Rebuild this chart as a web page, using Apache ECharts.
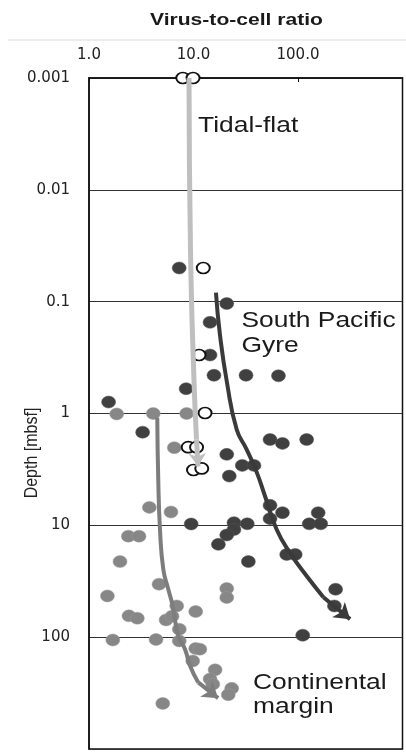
<!DOCTYPE html>
<html><head><meta charset="utf-8">
<script src="https://cdn.jsdelivr.net/npm/echarts@6/dist/echarts.min.js"></script>
<style>html,body{margin:0;padding:0;background:#fff}#c{width:406px;height:752px}</style>
</head><body><div id="c"></div>
<script>
// ---- tick labels ----
const xTickExponents = [0, 1, 2, 3];
const xTickLabels = ['1.0', '10.0', '100.0', ''];
const yTickExponents = [-3, -2, -1, 0, 1, 2, 3];
const yTickLabels = ['0.001', '0.01', '0.1', '1', '10', '100', ''];

// ---- Tidal-flat (open circles) ----
const tidalX = [7.9, 9.9, 12.4, 11.3, 12.9, 8.9, 10.7, 10.0, 12.0];
const tidalY = [0.001, 0.001, 0.05, 0.3, 0.99, 2.0, 2.0, 3.2, 3.1];

// ---- South Pacific Gyre (dark circles) ----
const gyreX = [7.3, 20.8, 14.4, 14.4, 15.7, 31.8, 65, 8.5, 1.54, 3.26, 54, 71, 121, 20.8, 29.3, 37.9, 22.0, 54, 71, 156, 54, 9.5, 24.4, 32.7, 128, 165, 24.4, 20.8, 17.3, 33.5, 78, 94, 229, 223, 111];
const gyreY = [0.05, 0.104, 0.153, 0.3, 0.455, 0.455, 0.46, 0.6, 0.79, 1.47, 1.71, 1.85, 1.71, 2.32, 2.91, 2.91, 3.63, 6.63, 7.7, 7.7, 8.71, 9.73, 9.46, 9.7, 9.7, 9.7, 10.9, 12.2, 14.8, 21.1, 18.2, 18.2, 37.3, 52.6, 96];

// ---- Continental margin (grey circles) ----
const marginX = [1.84, 4.12, 8.6, 6.55, 3.78, 6.09, 2.38, 3.01, 1.98, 4.68, 20.8, 20.8, 1.5, 6.91, 10.5, 2.41, 2.9, 5.46, 6.23, 7.31, 1.69, 4.38, 7.31, 10.5, 11.5, 9.83, 16.1, 14.4, 15.3, 23.2, 21.5, 5.08];
const marginY = [1.01, 1.0, 1.0, 2.02, 6.91, 7.6, 12.5, 12.5, 21.1, 33.6, 36.7, 44.2, 42.8, 52.6, 59, 64.5, 67.7, 70.1, 65, 84.9, 106, 105, 108, 126, 128, 163, 196, 237, 263, 287, 327, 391];

// ---- trend arrows (shaft points, last pair = arrow tip) ----
const tidalArrowX = [9.06, 9.36, 10.1, 10.69, 11.04];
const tidalArrowY = [0.001, 0.0344, 0.497, 1.71, 2.97];
const gyreArrowX = [16.4, 17.9, 20.9, 25.9, 32.3, 40.3, 48.3, 62.5, 85.7, 121, 175, 315];
const gyreArrowY = [0.083, 0.197, 0.528, 1.39, 2.10, 3.36, 5.47, 10.9, 18.2, 28.4, 43.9, 69];
const marginArrowX = [4.50, 4.60, 4.78, 5.14, 5.74, 6.32, 7.15, 8.29, 9.26, 11.1, 17.2];
const marginArrowY = [1.09, 3.88, 10.9, 24.7, 37.3, 52.6, 97.3, 128, 180, 254, 351];

const zip = (a, b) => a.map((v, i) => [v, b[i]]);
function shaft(xs, ys) { return zip(xs.slice(0, -1), ys.slice(0, -1)); }
function head(xs, ys) {
  const n = xs.length;
  return [{ coords: [[xs[n - 2], ys[n - 2]], [xs[n - 1], ys[n - 1]]] }];
}

const chart = echarts.init(document.getElementById('c'));
const DARK = '#404040', MID = '#878787', LIGHT = '#bfbfbf';

function arrow(xs, ys, color, width, hs) {
  return [
    { type: 'line', data: shaft(xs, ys), smooth: true, symbol: 'none', clip: false,
      lineStyle: { color: color, width: width }, z: 5, silent: true },
    { type: 'lines', coordinateSystem: 'cartesian2d', data: head(xs, ys),
      symbol: ['none', 'arrow'], symbolSize: hs, clip: false,
      lineStyle: { color: color, width: width, opacity: 1 }, z: 5, silent: true }
  ];
}

chart.setOption({
  animation: false,
  backgroundColor: '#fff',
  grid: { left: 89, right: 3.5, top: 78, bottom: 3, outerBoundsMode: 'none', containLabel: false,
    show: true, borderColor: '#111', borderWidth: 1.5, backgroundColor: 'transparent' },
  xAxis: {
    type: 'log', logBase: 10, min: 1, max: 1000, position: 'top',
    axisLine: { show: true, lineStyle: { color: '#111', width: 1.5 } },
    axisTick: { show: true, inside: true, length: 4, lineStyle: { color: '#111' } },
    splitLine: { show: false },
    axisLabel: {
      margin: 15, fontFamily: 'DejaVu Sans', fontSize: 15, color: '#222',
      showMaxLabel: false,
      formatter: v => { const i = xTickExponents.indexOf(Math.round(Math.log10(v))); return i >= 0 ? xTickLabels[i] : ''; }
    }
  },
  yAxis: {
    type: 'log', logBase: 10, min: 0.001, max: 1000, inverse: true,
    axisLine: { show: true, lineStyle: { color: '#111', width: 1.5 } },
    axisTick: { show: false },
    splitLine: { show: true, lineStyle: { color: '#333', width: 1 } },
    axisLabel: {
      margin: 19, fontFamily: 'DejaVu Sans', fontSize: 15, color: '#222',
      formatter: v => { const i = yTickExponents.indexOf(Math.round(Math.log10(v))); return i >= 0 ? yTickLabels[i] : ''; }
    }
  },
  graphic: [
    { type: 'line', shape: { x1: 8, y1: 40, x2: 406, y2: 40 }, style: { stroke: '#d9d9d9', lineWidth: 1 } },
    { type: 'text', x: 150, y: 12.3, scaleX: 1.24, style: { text: 'Virus-to-cell ratio', fontFamily: 'Liberation Sans', fontWeight: 'bold', fontSize: 17, lineHeight: 17, fill: '#1a1a1a', verticalAlign: 'top' } },
    { type: 'text', x: 32, y: 453, rotation: Math.PI / 2, scaleY: 1.15, style: { text: 'Depth [mbsf]', fontFamily: 'Liberation Sans', fontSize: 16, fill: '#222', align: 'center', verticalAlign: 'middle' } },
    { type: 'text', x: 198, y: 113, scaleX: 1.2, z: 10, style: { text: 'Tidal-flat', fontFamily: 'Liberation Sans', fontSize: 22, lineHeight: 25, fill: '#1a1a1a', verticalAlign: 'top' } },
    { type: 'text', x: 241.5, y: 308, scaleX: 1.2, z: 10, style: { text: 'South Pacific\nGyre', fontFamily: 'Liberation Sans', fontSize: 22, lineHeight: 25, fill: '#1a1a1a', verticalAlign: 'top' } },
    { type: 'text', x: 253, y: 671, scaleX: 1.2, z: 10, style: { text: 'Continental\nmargin', fontFamily: 'Liberation Sans', fontSize: 22, lineHeight: 24, fill: '#1a1a1a', verticalAlign: 'top' } }
  ],
  series: [
    { name: 'Continental margin', type: 'scatter', data: zip(marginX, marginY), symbol: 'circle', symbolSize: [14, 12], clip: false,
      itemStyle: { color: MID, borderColor: '#9a9a9a', borderWidth: 0.5, opacity: 1 }, z: 3 },
    { name: 'South Pacific Gyre', type: 'scatter', data: zip(gyreX, gyreY), symbol: 'circle', symbolSize: [14, 12], clip: false,
      itemStyle: { color: DARK, borderColor: '#555', borderWidth: 0.5, opacity: 1 }, z: 3 },
    { name: 'Tidal-flat', type: 'scatter', data: zip(tidalX, tidalY), symbol: 'circle', symbolSize: [13, 11], clip: false,
      itemStyle: { color: '#fff', borderColor: '#111', borderWidth: 1.8, opacity: 1 }, z: 4 },
    ...arrow(tidalArrowX, tidalArrowY, LIGHT, 5, 13),
    ...arrow(gyreArrowX, gyreArrowY, '#3a3a3a', 4, 15),
    ...arrow(marginArrowX, marginArrowY, '#7d7d7d', 4, 15)
  ]
});
</script></body></html>
